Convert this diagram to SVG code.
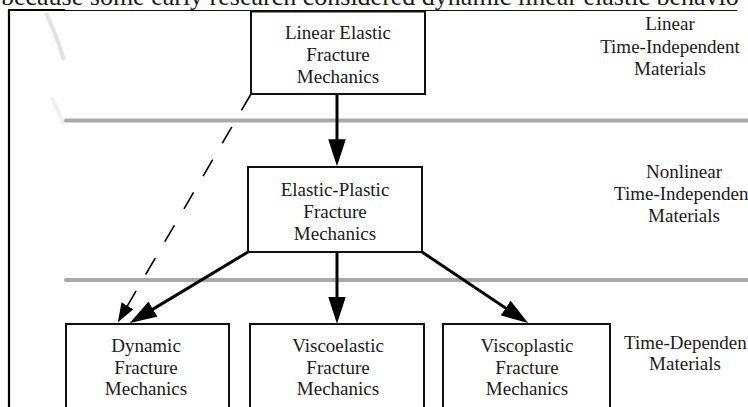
<svg xmlns="http://www.w3.org/2000/svg" width="748" height="407" viewBox="0 0 748 407">
<defs>
<style>
.t{font-family:"Liberation Serif","Times New Roman",serif;font-size:19px;fill:#1a1a1a}
.c{text-anchor:middle}
.box{fill:#fff;stroke:#111;stroke-width:2}
.bar{stroke:#a9a9a9;stroke-width:4;stroke-linecap:round}
.arr{stroke:#000;stroke-width:3;fill:none}
.dash{stroke:#000;stroke-width:1.6;fill:none;stroke-dasharray:19 19}
</style>
<marker id="ah" markerUnits="userSpaceOnUse" markerWidth="27" markerHeight="18" viewBox="0 0 26 17" refX="21" refY="8.5" orient="auto">
<path d="M0,0 L26,8.5 L0,17 z" fill="#000"/>
</marker>
<marker id="ahs" markerUnits="userSpaceOnUse" markerWidth="19" markerHeight="14" viewBox="0 0 18 13" refX="14" refY="6.5" orient="auto">
<path d="M0,0 L18,6.5 L0,13 z" fill="#000"/>
</marker>
</defs>
<rect width="748" height="407" fill="#fff"/>
<!-- faint watermark remnants -->
<path d="M46,13 Q56,34 64,60" stroke="#e2e2e2" stroke-width="4" fill="none"/>
<path d="M52,98 Q58,112 64,124" stroke="#efefef" stroke-width="4" fill="none"/>
<!-- top sentence (cropped) -->
<text class="t" x="1" y="5" style="font-size:26px">because some early research considered dynamic linear elastic behavio</text>
<!-- frame -->
<g id="frame">
<line x1="9" y1="9" x2="9" y2="407" stroke="#000" stroke-width="2.2"/>
<line x1="8" y1="10" x2="65" y2="10" stroke="#000" stroke-width="2"/>
<line x1="65" y1="10.5" x2="737" y2="10.5" stroke="#111" stroke-width="1.2"/>
</g>
<!-- gray separators -->
<g id="bands">
<line class="bar" x1="66" y1="120.5" x2="760" y2="120.5"/>
<line class="bar" x1="66" y1="280" x2="760" y2="280"/>
</g>
<!-- connectors -->
<g id="connectors">
<line class="arr" x1="337" y1="94" x2="337" y2="161" marker-end="url(#ah)"/>
<line class="arr" x1="337" y1="252" x2="337" y2="318.5" marker-end="url(#ah)"/>
<line class="arr" x1="248" y1="252" x2="134.3" y2="320.4" marker-end="url(#ah)"/>
<line class="arr" x1="422" y1="252" x2="523.8" y2="320.2" marker-end="url(#ah)"/>
<line class="dash" x1="251" y1="94" x2="120" y2="318.5" marker-end="url(#ahs)"/>
</g>
<!-- nodes -->
<g id="lefm">
<rect class="box" x="251" y="11.5" width="174" height="82.5"/>
<text class="t c" x="338" y="38.5">Linear Elastic</text>
<text class="t c" x="338" y="60.5">Fracture</text>
<text class="t c" x="338" y="82.5">Mechanics</text>
</g>
<g id="epfm">
<rect class="box" x="248" y="167" width="174" height="85"/>
<text class="t c" x="335" y="195.5">Elastic-Plastic</text>
<text class="t c" x="335" y="218">Fracture</text>
<text class="t c" x="335" y="240">Mechanics</text>
</g>
<g id="dynamic">
<rect class="box" x="66" y="324" width="163" height="100"/>
<text class="t c" x="146" y="351.5">Dynamic</text>
<text class="t c" x="146" y="373.5">Fracture</text>
<text class="t c" x="146" y="395">Mechanics</text>
</g>
<g id="viscoelastic">
<rect class="box" x="250" y="324" width="174" height="100"/>
<text class="t c" x="338" y="351.5">Viscoelastic</text>
<text class="t c" x="338" y="373.5">Fracture</text>
<text class="t c" x="338" y="395">Mechanics</text>
</g>
<g id="viscoplastic">
<rect class="box" x="443" y="324" width="167" height="100"/>
<text class="t c" x="527" y="351.5">Viscoplastic</text>
<text class="t c" x="527" y="373.5">Fracture</text>
<text class="t c" x="527" y="395">Mechanics</text>
</g>
<!-- right-hand labels -->
<g id="label-linear">
<text class="t c" x="670" y="30">Linear</text>
<text class="t c" x="670" y="52.5">Time-Independent</text>
<text class="t c" x="670" y="75">Materials</text>
</g>
<g id="label-nonlinear">
<text class="t c" x="684" y="178">Nonlinear</text>
<text class="t" x="614" y="200">Time-Independen</text>
<text class="t c" x="684" y="221.5">Materials</text>
</g>
<g id="label-timedep">
<text class="t" x="624" y="348.5">Time-Dependen</text>
<text class="t c" x="685" y="370">Materials</text>
</g>
</svg>
